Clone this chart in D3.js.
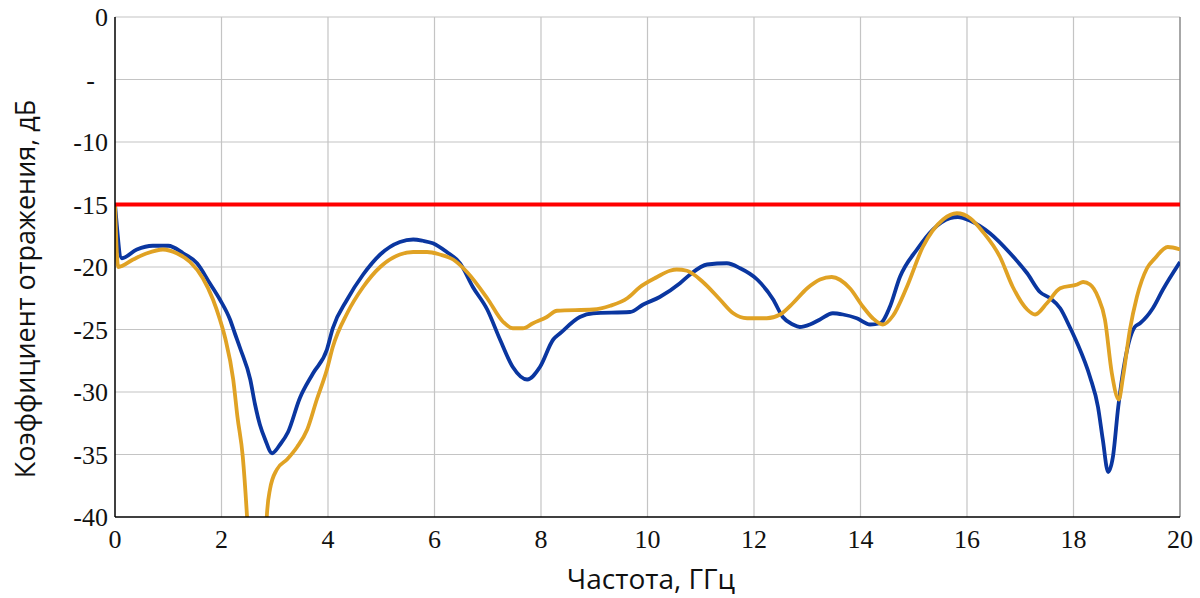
<!DOCTYPE html>
<html>
<head>
<meta charset="utf-8">
<script src="https://cdn.jsdelivr.net/npm/d3@7"></script>
<style>
  body { margin: 0; background: #fff; }
  svg { display: block; }
</style>
</head>
<body>
<div id="chart"></div>
<script>
// frequency, GHz / reflection, dB
const blueF = [0, 0.13, 0.41, 0.71, 1.00, 1.28, 1.54, 1.78, 1.97, 2.16, 2.25, 2.35, 2.54, 2.63, 2.72, 2.82, 2.95, 3.10, 3.25, 3.47, 3.72, 3.98, 4.09, 4.36, 4.66, 4.98, 5.35, 5.60, 5.78, 5.97, 6.23, 6.48, 6.72, 6.99, 7.23, 7.47, 7.74, 7.98, 8.23, 8.36, 8.73, 8.98, 9.67, 9.92, 10.23, 10.61, 10.80, 11.12, 11.49, 11.74, 12.06, 12.36, 12.54, 12.73, 12.86, 13.05, 13.24, 13.48, 13.67, 13.93, 14.18, 14.37, 14.55, 14.74, 15.06, 15.36, 15.68, 15.83, 16.06, 16.43, 16.81, 17.13, 17.37, 17.56, 17.75, 17.93, 18.07, 18.31, 18.46, 18.55, 18.65, 18.74, 18.84, 18.97, 19.15, 19.25, 19.49, 19.68, 20.0];
const blueDb = [-15, -19.3, -18.6, -18.3, -18.3, -18.9, -19.7, -21.3, -22.6, -24.2, -25.3, -26.5, -29, -31, -32.6, -33.8, -34.9, -34.2, -33.2, -30.5, -28.5, -26.6, -24.9, -22.6, -20.6, -19, -18, -17.8, -17.9, -18.1, -18.8, -19.7, -21.6, -23.4, -25.8, -28, -29, -28, -25.8, -25.3, -24, -23.7, -23.6, -23, -22.4, -21.3, -20.6, -19.8, -19.7, -20.1, -21, -22.6, -24, -24.6, -24.8, -24.6, -24.2, -23.7, -23.8, -24.1, -24.6, -24.5, -23.2, -20.8, -18.6, -17, -16.1, -16, -16.3, -17.3, -18.9, -20.5, -22, -22.5, -23.3, -24.8, -26.1, -28.8, -31.2, -33.8, -36.4, -35.2, -31.2, -27.4, -24.8, -24.5, -23.3, -21.8, -19.6];

const yellowF = [0, 0.06, 0.34, 0.60, 0.90, 1.16, 1.41, 1.65, 1.84, 1.97, 2.07, 2.22, 2.30, 2.40, 2.48, 2.52, 2.62, 2.78, 2.85, 2.91, 3.04, 3.23, 3.42, 3.61, 3.79, 3.98, 4.09, 4.36, 4.66, 4.98, 5.35, 5.60, 5.86, 6.10, 6.35, 6.61, 6.99, 7.29, 7.47, 7.66, 7.85, 8.11, 8.30, 8.98, 9.30, 9.62, 9.86, 10.18, 10.42, 10.55, 10.74, 11.04, 11.36, 11.61, 11.87, 12.24, 12.49, 12.73, 13.00, 13.24, 13.46, 13.80, 14.05, 14.23, 14.42, 14.61, 14.87, 15.17, 15.55, 15.81, 16.06, 16.30, 16.62, 16.86, 17.13, 17.28, 17.50, 17.75, 18.07, 18.18, 18.31, 18.46, 18.59, 18.72, 18.85, 18.93, 19.06, 19.19, 19.38, 19.53, 19.77, 20.0];
const yellowDb = [-15, -20, -19.4, -18.9, -18.6, -18.9, -19.6, -20.9, -22.6, -24.2, -25.7, -29, -32, -35.2, -40, -43, -52, -50, -40, -37.8, -36.2, -35.4, -34.4, -33, -30.6, -28.2, -26.4, -23.7, -21.6, -20, -19, -18.8, -18.8, -19, -19.4, -20.4, -22.5, -24.4, -24.9, -24.9, -24.5, -24, -23.5, -23.4, -23.1, -22.5, -21.6, -20.8, -20.3, -20.2, -20.3, -21.2, -22.6, -23.7, -24.1, -24.1, -23.8, -22.9, -21.7, -21, -20.8, -21.7, -23.2, -24.1, -24.6, -23.9, -21.6, -18.4, -16.2, -15.7, -16.1, -17.2, -19.2, -21.6, -23.4, -23.8, -22.9, -21.7, -21.4, -21.2, -21.4, -22.4, -24.2, -28.5, -30.6, -28.8, -25, -22.4, -20.1, -19.3, -18.4, -18.6];

const limitDb = -15;
const xTicks = [0, 2, 4, 6, 8, 10, 12, 14, 16, 18, 20];
const yTicks = [0, -5, -10, -15, -20, -25, -30, -35, -40];
const yTickLabels = ['0', '-', '-10', '-15', '-20', '-25', '-30', '-35', '-40'];

const W = 1200, H = 598;
const mLeft = 115, mRight = 1180, mTop = 17, mBottom = 517;

let svg = d3.select('#chart').append('svg').attr('width', W).attr('height', H);

let x = d3.scaleLinear().domain([0, 20]).range([mLeft, mRight]);
let y = d3.scaleLinear().domain([0, -40]).range([mTop, mBottom]);

svg.append('defs').append('clipPath').attr('id', 'plot')
  .append('rect').attr('x', mLeft).attr('y', mTop)
  .attr('width', mRight - mLeft).attr('height', mBottom - mTop);

// grid
svg.append('g').selectAll('line').data(xTicks.slice(1, -1)).enter().append('line')
  .attr('x1', d => x(d)).attr('x2', d => x(d))
  .attr('y1', mTop).attr('y2', mBottom)
  .attr('stroke', '#c4c4c4').attr('stroke-width', 1.2);

svg.append('g').selectAll('line').data(yTicks.slice(0, -1)).enter().append('line')
  .attr('x1', mLeft).attr('x2', mRight)
  .attr('y1', d => y(d)).attr('y2', d => y(d))
  .attr('stroke', '#c4c4c4').attr('stroke-width', 1.2);

svg.append('line')
  .attr('x1', mRight).attr('x2', mRight).attr('y1', mTop).attr('y2', mBottom)
  .attr('stroke', '#8a8a8a').attr('stroke-width', 1.5);

// curves
let line = d3.line().x(d => x(d[0])).y(d => y(d[1])).curve(d3.curveMonotoneX);
let plot = svg.append('g').attr('clip-path', 'url(#plot)');

plot.append('path')
  .datum(d3.zip(blueF, blueDb))
  .attr('d', line)
  .attr('fill', 'none').attr('stroke', '#0a36a0').attr('stroke-width', 3.8)
  .attr('stroke-linejoin', 'round');

plot.append('path')
  .datum(d3.zip(yellowF, yellowDb))
  .attr('d', line)
  .attr('fill', 'none').attr('stroke', '#e0a224').attr('stroke-width', 3.8)
  .attr('stroke-linejoin', 'round');

plot.append('line')
  .attr('x1', x(0)).attr('x2', x(20))
  .attr('y1', y(limitDb)).attr('y2', y(limitDb))
  .attr('stroke', '#ff0000').attr('stroke-width', 3.8);

// axes lines
svg.append('line').attr('x1', mLeft).attr('x2', mLeft).attr('y1', mTop).attr('y2', mBottom)
  .attr('stroke', '#000').attr('stroke-width', 1.5);
svg.append('line').attr('x1', mLeft).attr('x2', mRight).attr('y1', mBottom).attr('y2', mBottom)
  .attr('stroke', '#000').attr('stroke-width', 1.5);

// tick labels
svg.append('g').selectAll('text').data(yTicks).enter().append('text')
  .attr('x', mLeft - 7)
  .attr('dx', (d, i) => yTickLabels[i] == '-' ? -13 : 0)
  .attr('y', d => y(d) + 9)
  .attr('text-anchor', 'end')
  .attr('font-family', '"Liberation Serif", "Times New Roman", serif')
  .attr('font-size', '26px')
  .attr('fill', '#111')
  .text((d, i) => yTickLabels[i]);

svg.append('g').selectAll('text').data(xTicks).enter().append('text')
  .attr('x', d => x(d))
  .attr('y', mBottom + 31)
  .attr('text-anchor', 'middle')
  .attr('font-family', '"Liberation Serif", "Times New Roman", serif')
  .attr('font-size', '26px')
  .attr('fill', '#111')
  .text(d => d);

// titles
svg.append('text')
  .attr('x', 651).attr('y', 589)
  .attr('text-anchor', 'middle')
  .attr('font-family', '"Open Sans", "Noto Sans", sans-serif')
  .attr('font-size', '28px')
  .attr('fill', '#111')
  .text('Частота, ГГц');

svg.append('text')
  .attr('transform', 'translate(35,289) rotate(-90)')
  .attr('text-anchor', 'middle')
  .attr('font-family', '"Open Sans", "Noto Sans", sans-serif')
  .attr('font-size', '27px')
  .attr('fill', '#111')
  .text('Коэффициент отражения, дБ');
</script>
</body>
</html>
